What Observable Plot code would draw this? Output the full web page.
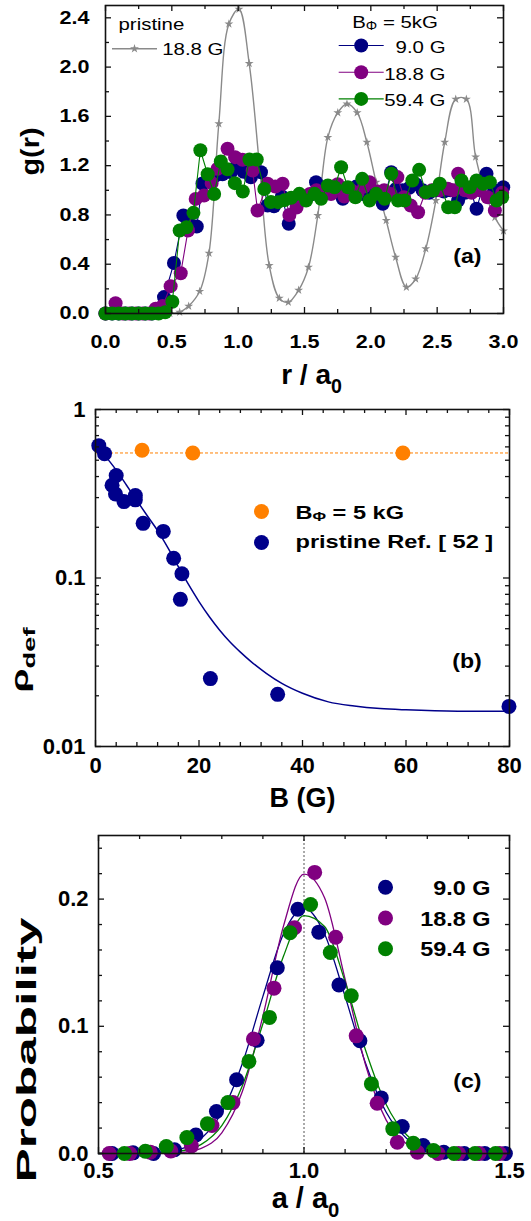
<!DOCTYPE html>
<html><head><meta charset="utf-8">
<script src="https://cdn.jsdelivr.net/npm/d3@7"></script>
<script src="https://cdn.jsdelivr.net/npm/@observablehq/plot@0.6"></script>
<style>
html,body{margin:0;padding:0;background:#fff;}
#root{width:531px;}
#root svg{display:block;}
</style></head><body><div id="root"></div>
<script>
// ---------------- Panel (a): g(r) ----------------
const pristine_18_8G = [[0.41,0],[0.485,0],[0.559,0.01],[0.627,0.06],[0.71,0.18],[0.78,0.49],[0.854,1.54],[0.93,2.35],[1.006,2.47],[1.083,2.03],[1.159,1.22],[1.234,0.39],[1.31,0.124],[1.378,0.092],[1.456,0.19],[1.53,0.376],[1.60,0.795],[1.676,1.43],[1.751,1.63],[1.82,1.70],[1.897,1.63],[1.97,1.39],[2.04,1.066],[2.116,0.755],[2.187,0.457],[2.268,0.214],[2.338,0.28],[2.414,0.525],[2.49,0.917],[2.557,1.39],[2.64,1.74],[2.72,1.74],[2.79,1.27],[2.865,0.97],[2.935,0.78],[3.0,0.67]];
const gr_9_0G = [[0,0],[0.05,0],[0.1,0],[0.15,0],[0.2,0],[0.25,0],[0.3,0],[0.35,0],[0.39,0.02],[0.441,0.133],[0.516,0.41],[0.587,0.795],[0.64,0.72],[0.688,0.706],[0.731,1.055],[0.78,1.07],[0.83,1.12],[0.882,1.13],[0.945,1.147],[0.99,1.2],[1.04,1.15],[1.096,1.106],[1.172,1.147],[1.222,0.877],[1.27,0.87],[1.33,0.95],[1.381,0.728],[1.43,0.92],[1.48,0.95],[1.535,0.96],[1.587,1.066],[1.64,0.99],[1.69,1.0],[1.74,1.02],[1.789,0.931],[1.84,1.0],[1.89,1.03],[1.94,0.97],[1.99,1.0],[2.04,0.96],[2.09,0.89],[2.154,1.147],[2.19,1.01],[2.24,1.0],[2.29,1.02],[2.34,1.05],[2.39,1.0],[2.44,0.98],[2.49,1.0],[2.55,0.99],[2.6,1.0],[2.658,0.917],[2.71,0.98],[2.75,1.0],[2.797,0.85],[2.872,1.134],[2.93,1.0],[2.998,1.025]];
const gr_18_8G = [[0,0],[0.076,0.084],[0.13,0],[0.18,0],[0.23,0],[0.28,0],[0.33,0],[0.378,0.038],[0.43,0.06],[0.491,0.222],[0.567,0.327],[0.622,0.674],[0.68,0.93],[0.743,0.958],[0.80,1.06],[0.844,1.174],[0.92,1.337],[0.977,1.269],[1.033,1.247],[1.109,1.161],[1.146,0.836],[1.222,1.053],[1.28,1.03],[1.335,1.053],[1.386,0.80],[1.44,0.86],[1.49,0.95],[1.54,0.97],[1.59,1.0],[1.64,0.99],[1.70,0.97],[1.75,1.05],[1.80,0.95],[1.85,1.0],[1.90,0.98],[1.95,1.03],[1.99,1.066],[2.05,0.99],[2.10,1.0],[2.15,0.97],[2.20,1.107],[2.25,0.944],[2.30,0.877],[2.356,0.822],[2.41,0.98],[2.46,1.0],[2.52,1.0],[2.58,1.012],[2.62,1.0],[2.658,1.134],[2.71,1.0],[2.76,0.98],[2.82,1.0],[2.88,0.944],[2.935,0.836],[2.99,0.98]];
const gr_59_4G = [[0,0],[0.05,0],[0.1,0],[0.15,0],[0.2,0],[0.25,0],[0.3,0],[0.35,0],[0.4,0],[0.45,0.01],[0.504,0.095],[0.559,0.674],[0.61,0.70],[0.663,0.817],[0.715,1.325],[0.77,1.13],[0.819,0.97],[0.869,1.234],[0.92,1.17],[0.975,1.058],[1.035,0.99],[1.085,1.25],[1.14,1.25],[1.197,1.01],[1.247,0.905],[1.30,0.904],[1.35,0.92],[1.40,0.94],[1.461,0.971],[1.512,0.917],[1.575,0.971],[1.625,0.931],[1.676,1.039],[1.726,1.025],[1.776,1.187],[1.827,1.025],[1.884,0.944],[1.935,1.093],[1.99,0.917],[2.04,0.971],[2.104,0.931],[2.154,1.134],[2.205,0.917],[2.255,0.917],[2.313,1.08],[2.364,1.166],[2.414,0.985],[2.469,0.998],[2.52,1.053],[2.583,0.863],[2.633,0.863],[2.683,1.08],[2.746,1.025],[2.797,1.08],[2.847,1.053],[2.897,1.066],[2.948,0.917],[2.99,0.944]];
const xMajA = [0,0.5,1,1.5,2,2.5,3], xMinA = [0.25,0.75,1.25,1.75,2.25,2.75];
const yMajA = [0,0.4,0.8,1.2,1.6,2.0,2.4], yMinA = [0.2,0.6,1.0,1.4,1.8,2.2];

// ---------------- Panel (b): rho_def vs B ----------------
const B_pristine   = [0.64,1.74,4.0,3.2,3.86,5.5,7.7,7.7,9.2,13.1,15.1,16.7,16.4,22.2,35.2,79.9];
const rho_pristine = [0.61,0.547,0.406,0.355,0.315,0.284,0.309,0.291,0.211,0.189,0.131,0.106,0.0747,0.0253,0.0204,0.0173];
const B_5kG   = [9.0,18.8,59.4];
const rho_5kG = [0.573,0.552,0.552];
const rho_5kG_level = [0.552];
const B_fit   = [0,2,4,6,8,10,12,14,16,18,20,22,24,26,28,30,33,36,40,45,50,55,60,70,80];
const rho_fit = [0.631,0.525,0.437,0.355,0.288,0.234,0.191,0.151,0.117,0.0912,0.0724,0.0589,0.049,0.0417,0.0363,0.032,0.0272,0.0237,0.0207,0.0184,0.0174,0.0168,0.0165,0.0162,0.0162];
const xMajB = [0,20,40,60,80], xMinB = [4,8,12,16,24,28,32,36,44,48,52,56,64,68,72,76];
const yMajB = [0.01,0.1,1], yMinB = [0.02,0.03,0.04,0.05,0.06,0.07,0.08,0.09,0.2,0.3,0.4,0.5,0.6,0.7,0.8,0.9];

// ---------------- Panel (c): bond-length distribution ----------------
const a_9_0G = [0.533,0.584,0.634,0.685,0.737,0.787,0.836,0.886,0.935,0.985,1.036,1.085,1.136,1.188,1.239,1.29,1.34,1.39,1.44,1.49];
const p_9_0G = [0,0.0005,0,0.003,0.0145,0.033,0.058,0.089,0.146,0.192,0.174,0.1325,0.0886,0.0437,0.0212,0.0063,0.001,0,0,0];
const a_18_8G = [0.526,0.576,0.626,0.676,0.726,0.776,0.827,0.877,0.927,0.977,1.026,1.077,1.127,1.178,1.227,1.276,1.326,1.376,1.426,1.476];
const p_18_8G = [0,0,0.001,0.002,0.006,0.022,0.040,0.090,0.130,0.1775,0.221,0.170,0.0925,0.0395,0.0089,0.001,0,0,0,0];
const a_59_4G = [0.563,0.614,0.665,0.715,0.765,0.815,0.866,0.916,0.966,1.016,1.064,1.115,1.164,1.216,1.266,1.315,1.365,1.416,1.466];
const p_59_4G = [0,0.0018,0.0055,0.0125,0.0233,0.040,0.0724,0.107,0.1736,0.1958,0.158,0.124,0.0547,0.0194,0.0081,0.0023,0,0,0];
const a_fit = [0.5,0.55,0.6,0.65,0.7,0.75,0.8,0.85,0.9,0.95,1.0,1.05,1.1,1.15,1.2,1.25,1.3,1.35,1.4,1.45,1.5];
const fit_9_0G  = [0,0,0.00015,0.0008,0.0035,0.0118,0.0324,0.0707,0.1235,0.1726,0.193,0.1726,0.1235,0.0707,0.0324,0.0118,0.0035,0.0008,0.00015,0,0];
const fit_18_8G = [0,0,0,0.0001,0.00076,0.0041,0.0163,0.0487,0.108,0.1787,0.2197,0.2011,0.137,0.0694,0.0262,0.0074,0.0015,0.0002,0,0,0];
const fit_59_4G = [0,0,0.00006,0.0004,0.0019,0.0072,0.022,0.0533,0.102,0.155,0.187,0.1785,0.135,0.081,0.0385,0.0145,0.0043,0.001,0.0002,0,0];
const xMajC = [0.5,1.0,1.5], xMinC = [0.6,0.7,0.8,0.9,1.1,1.2,1.3,1.4];
const yMajC = [0,0.1,0.2], yMinC = [0.02,0.04,0.06,0.08,0.12,0.14,0.16,0.18,0.22,0.24];

// ---------------- helpers ----------------
const FONT = "'Liberation Sans', Arial, sans-serif";
const GREY = "#8a8a8a", NAVY = "#000080", PURPLE = "#800080", GREEN = "#008000", ORANGE = "#ff8000", BLUEB = "#00008b";
const pairs = (arr) => arr.map(([x, y]) => ({x, y}));
const zipXY = (xs, ys) => xs.map((x, i) => ({x, y: ys[i]}));
const lineSym = (len) => ({draw(ctx) { ctx.moveTo(-len / 2, 0); ctx.lineTo(len / 2, 0); }});

function frameTicks(W, H, xMaj, xMin, yMaj, yMin) {
  const s = {stroke: "#111", strokeWidth: 1.3};
  return [
    Plot.tickX(xMaj, {x: d => d, insetTop: H - 6, ...s}),
    Plot.tickX(xMin, {x: d => d, insetTop: H - 4, ...s}),
    Plot.tickX(xMaj, {x: d => d, insetBottom: H - 6, ...s}),
    Plot.tickX(xMin, {x: d => d, insetBottom: H - 4, ...s}),
    Plot.tickY(yMaj, {y: d => d, insetRight: W - 6, ...s}),
    Plot.tickY(yMin, {y: d => d, insetRight: W - 4, ...s}),
    Plot.tickY(yMaj, {y: d => d, insetLeft: W - 6, ...s}),
    Plot.tickY(yMin, {y: d => d, insetLeft: W - 4, ...s}),
    Plot.frame({stroke: "#111", strokeWidth: 1.6})
  ];
}

const NS = "http://www.w3.org/2000/svg";
function rich(t) {
  const s = t.textContent;
  t.setAttribute("data-raw", s);
  if (!/_[\{\[]/.test(s)) return;
  t.textContent = "";
  const re = /_\{([^}]*)\}|_\[([^\]]*)\]/g;
  let last = 0, m, back = 0;
  const add = (str, attrs) => {
    const ts = document.createElementNS(NS, "tspan");
    ts.textContent = str;
    for (const k in attrs) ts.setAttribute(k, attrs[k]);
    t.appendChild(ts);
  };
  while ((m = re.exec(s))) {
    if (m.index > last) { add(s.slice(last, m.index), back ? {dy: (-back) + "em"} : {}); back = 0; }
    const sub = m[1] != null ? m[1] : m[2];
    const shift = m[1] != null ? 0.33 : 0.12;
    add(sub, {"font-size": "0.7em", dy: (shift / 0.7 - (back ? back / 0.7 : 0)).toFixed(3) + "em"});
    back = shift; last = re.lastIndex;
  }
  if (last < s.length) add(s.slice(last), back ? {dy: (-back) + "em"} : {});
}
function finish(svg, factor, overrides) {
  svg.querySelectorAll("text").forEach(rich);
  svg.querySelectorAll("text").forEach(t => {
    const raw = t.getAttribute("data-raw");
    const L = t.getComputedTextLength();
    if (!L) return;
    const o = overrides[raw] || {};
    const target = o.len != null ? o.len : L * (o.factor != null ? o.factor : factor);
    if (Math.abs(target - L) < 0.3) return;
    t.setAttribute("textLength", target.toFixed(1));
    t.setAttribute("lengthAdjust", "spacingAndGlyphs");
  });
}
const root = document.getElementById("root");
const style = {fontFamily: FONT, fontWeight: "bold", background: "white", overflow: "visible", color: "black"};

// ---------------- Panel (a) ----------------
{
  const W = 531, H = 400, mL = 105, mR = 28, mT = 5, mB = 87;
  const iW = W - mL - mR, iH = H - mT - mB;
  const series = [[gr_9_0G, NAVY], [gr_18_8G, PURPLE], [gr_59_4G, GREEN]];
  const marks = [
    Plot.line(pairs(pristine_18_8G), {x: "x", y: "y", stroke: GREY, strokeWidth: 1.4, curve: "catmull-rom"}),
    Plot.dot(pairs(pristine_18_8G), {x: "x", y: "y", symbol: "star", r: 2.8, fill: GREY})
  ];
  for (const [d, c] of series) {
    marks.push(Plot.line(pairs(d), {x: "x", y: "y", stroke: c, strokeWidth: 1.1}));
    marks.push(Plot.dot(pairs(d), {x: "x", y: "y", r: 7, fill: c}));
  }
  marks.push(...frameTicks(iW, iH, xMajA, xMinA, yMajA, yMinA));
  marks.push(
    Plot.axisX({ticks: xMajA, tickSize: 0, tickPadding: 22, tickFormat: d => d.toFixed(1), fontSize: 18, label: null}),
    Plot.axisY({ticks: yMajA, tickSize: 0, tickPadding: 16, tickFormat: d => d.toFixed(1), fontSize: 18, label: null}),
    Plot.text(["g(r)"], {frameAnchor: "left", rotate: -90, textAnchor: "middle", lineAnchor: "bottom", dx: -67, dy: -8, fontSize: 26}),
    Plot.text(["r / a_{0}"], {frameAnchor: "bottom", textAnchor: "middle", lineAnchor: "bottom", dx: 7, dy: 70, fontSize: 28}),
    // legend: pristine
    Plot.text(["pristine"], {frameAnchor: "top-left", textAnchor: "start", lineAnchor: "bottom", dx: 13, dy: 24, fontSize: 17, fontWeight: "normal"}),
    Plot.dot([0], {frameAnchor: "top-left", dx: 29, dy: 43.3, symbol: lineSym(45), stroke: GREY, strokeWidth: 1.4, fill: "none"}),
    Plot.dot([0], {frameAnchor: "top-left", dx: 29, dy: 43.3, symbol: "star", r: 2.8, fill: GREY}),
    Plot.text(["18.8 G"], {frameAnchor: "top-left", textAnchor: "start", lineAnchor: "bottom", dx: 56.7, dy: 49.5, fontSize: 17, fontWeight: "normal"}),
    // legend: B_Phi = 5kG
    Plot.text(["B_[Φ] = 5kG"], {frameAnchor: "top-left", textAnchor: "start", lineAnchor: "bottom", dx: 246.7, dy: 22.5, fontSize: 17, fontWeight: "normal"})
  );
  const labsA = ["9.0 G", "18.8 G", "59.4 G"];
  series.forEach(([d, c], i) => {
    const y = 40 + i * 26.7;
    marks.push(
      Plot.dot([0], {frameAnchor: "top-left", dx: 255.7, dy: y, symbol: lineSym(45), stroke: c, strokeWidth: 1.1, fill: "none"}),
      Plot.dot([0], {frameAnchor: "top-left", dx: 255.7, dy: y, r: 7, fill: c}),
      Plot.text([labsA[i]], {frameAnchor: "top-left", textAnchor: "end", lineAnchor: "bottom", dx: 340, dy: y + 7.5, fontSize: 17, fontWeight: "normal"})
    );
  });
  marks.push(Plot.text(["(a)"], {frameAnchor: "top-left", textAnchor: "start", lineAnchor: "bottom", dx: 347.7, dy: 257, fontSize: 21}));
  const svg = Plot.plot({width: W, height: H, marginLeft: mL, marginRight: mR, marginTop: mT, marginBottom: mB,
    x: {domain: [0, 3]}, y: {domain: [0, 2.5]}, style, marks});
  root.appendChild(svg);
  finish(svg, 1.2, {"r / a_{0}": {factor: 1.0}, "g(r)": {len: 48}, "(a)": {factor: 1.1}});
}

// ---------------- Panel (b) ----------------
{
  const W = 531, H = 420, mL = 95, mR = 22, mT = 9, mB = 74;
  const iW = W - mL - mR, iH = H - mT - mB;
  const marks = [
    Plot.ruleY(rho_5kG_level, {y: d => d, stroke: ORANGE, strokeWidth: 1, strokeDasharray: "3,2"}),
    Plot.line(zipXY(B_fit, rho_fit), {x: "x", y: "y", stroke: BLUEB, strokeWidth: 1.5, curve: "monotone-x"}),
    Plot.dot(zipXY(B_pristine, rho_pristine), {x: "x", y: "y", r: 7.5, fill: BLUEB}),
    Plot.dot(zipXY(B_5kG, rho_5kG), {x: "x", y: "y", r: 7.5, fill: ORANGE}),
    ...frameTicks(iW, iH, xMajB, xMinB, yMajB, yMinB),
    Plot.axisX({ticks: xMajB, tickSize: 0, tickPadding: 11, tickFormat: d => String(d), fontSize: 22, label: null}),
    Plot.axisY({ticks: yMajB, tickSize: 0, tickPadding: 10, tickFormat: d => String(d), fontSize: 22, label: null}),
    Plot.text(["ρ_{def}"], {frameAnchor: "left", rotate: -90, textAnchor: "start", lineAnchor: "bottom", dx: -68, dy: 114.5, fontSize: 23}),
    Plot.text(["B (G)"], {frameAnchor: "bottom", textAnchor: "middle", lineAnchor: "bottom", dx: 0, dy: 60, fontSize: 27}),
    Plot.dot([0], {frameAnchor: "top-left", dx: 166, dy: 102, r: 7.5, fill: ORANGE}),
    Plot.dot([0], {frameAnchor: "top-left", dx: 166, dy: 133, r: 7.5, fill: BLUEB}),
    Plot.text(["B_[Φ] = 5 kG"], {frameAnchor: "top-left", textAnchor: "start", lineAnchor: "bottom", dx: 200, dy: 109, fontSize: 19}),
    Plot.text(["pristine Ref. [ 52 ]"], {frameAnchor: "top-left", textAnchor: "start", lineAnchor: "bottom", dx: 200, dy: 138, fontSize: 19}),
    Plot.text(["(b)"], {frameAnchor: "top-left", textAnchor: "start", lineAnchor: "bottom", dx: 356.7, dy: 258, fontSize: 21})
  ];
  const svg = Plot.plot({width: W, height: H, marginLeft: mL, marginRight: mR, marginTop: mT, marginBottom: mB,
    x: {domain: [0, 80]}, y: {type: "log", domain: [0.01, 1]}, style, marks});
  root.appendChild(svg);
  finish(svg, 1.0, {"ρ_{def}": {len: 65}, "B_[Φ] = 5 kG": {factor: 1.24}, "pristine Ref. [ 52 ]": {factor: 1.24}, "(b)": {factor: 1.1}});
}

// ---------------- Panel (c) ----------------
{
  const W = 531, H = 401, mL = 98, mR = 22, mT = 15, mB = 68;
  const iW = W - mL - mR, iH = H - mT - mB;
  const series = [[a_9_0G, p_9_0G, fit_9_0G, NAVY, "9.0 G"], [a_18_8G, p_18_8G, fit_18_8G, PURPLE, "18.8 G"], [a_59_4G, p_59_4G, fit_59_4G, GREEN, "59.4 G"]];
  const marks = [Plot.ruleX([1.0], {x: d => d, stroke: "#555", strokeWidth: 1, strokeDasharray: "2,2"})];
  for (const [a, p, f, c] of series) {
    marks.push(Plot.line(zipXY(a_fit, f), {x: "x", y: "y", stroke: c, strokeWidth: 1.3, curve: "monotone-x"}));
  }
  for (const [a, p, f, c] of series) {
    marks.push(Plot.dot(zipXY(a, p), {x: "x", y: "y", r: 7.5, fill: c}));
  }
  marks.push(...frameTicks(iW, iH, xMajC, xMinC, yMajC, yMinC));
  marks.push(
    Plot.axisX({ticks: xMajC, tickSize: 0, tickPadding: 9, tickFormat: d => d.toFixed(1), fontSize: 22, label: null}),
    Plot.axisY({ticks: yMajC, tickSize: 0, tickPadding: 10, tickFormat: d => d.toFixed(1), fontSize: 22, label: null}),
    Plot.text(["Probability"], {frameAnchor: "left", rotate: -90, textAnchor: "middle", lineAnchor: "bottom", dx: -63, dy: 55.5, fontSize: 27}),
    Plot.text(["a / a_{0}"], {frameAnchor: "bottom", textAnchor: "middle", lineAnchor: "bottom", dx: 1.5, dy: 54, fontSize: 29})
  );
  series.forEach(([a, p, f, c, lab], i) => {
    const y = 51.7 + i * 30.8;
    marks.push(
      Plot.dot([0], {frameAnchor: "top-left", dx: 287, dy: y, r: 7.5, fill: c}),
      Plot.text([lab], {frameAnchor: "top-left", textAnchor: "end", lineAnchor: "bottom", dx: 392, dy: y + 7.5, fontSize: 20})
    );
  });
  marks.push(Plot.text(["(c)"], {frameAnchor: "top-left", textAnchor: "start", lineAnchor: "bottom", dx: 354.7, dy: 252, fontSize: 21}));
  const svg = Plot.plot({width: W, height: H, marginLeft: mL, marginRight: mR, marginTop: mT, marginBottom: mB,
    x: {domain: [0.5, 1.5]}, y: {domain: [0, 0.25]}, style, marks});
  root.appendChild(svg);
  finish(svg, 1.0, {"Probability": {len: 265}, "9.0 G": {factor: 1.17}, "18.8 G": {factor: 1.17}, "59.4 G": {factor: 1.17}, "(c)": {factor: 1.1}});
}
</script>
</body></html>
